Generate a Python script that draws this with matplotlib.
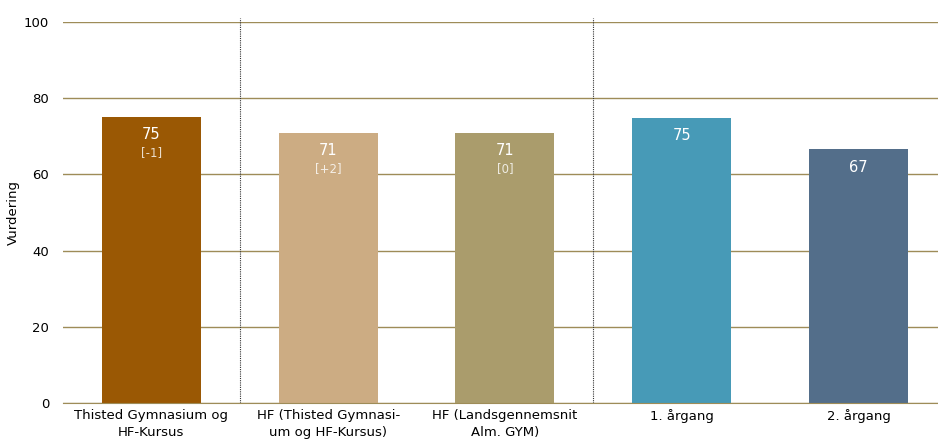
import matplotlib
matplotlib.use("Agg")
from matplotlib import pyplot as plt

# data
kategorier = ["Thisted Gymnasium og\nHF-Kursus",
              "HF (Thisted Gymnasi-\num og HF-Kursus)",
              "HF (Landsgennemsnit\nAlm. GYM)",
              "1. årgang",
              "2. årgang"]
vaerdier = [75.1, 70.9, 70.9, 74.9, 66.6]
etiketter = ["75", "71", "71", "75", "67"]
aendringer = ["[-1]", "[+2]", "[0]", None, None]
farver = ["#9A5804", "#CCAC83", "#AA9C6C", "#479AB7", "#536E8A"]
skillelinjer = [0.5, 2.5]

plt.rcParams["font.family"] = ["DejaVu Sans"]

fig = plt.figure(figsize=(9.38, 4.43), dpi=100)
ax = fig.add_axes([63 / 938, 40 / 443, 1 - 63 / 938, 381 / 443])

pos = list(range(len(kategorier)))
bars = ax.bar(pos, vaerdier, width=0.56, color=farver, zorder=3)

for b, lab, aend in zip(bars, etiketter, aendringer):
    x = b.get_x() + b.get_width() / 2
    h = b.get_height()
    ax.annotate(lab, (x, h), xytext=(0, -13), textcoords="offset points",
                ha="center", va="center", color="white", fontsize=10.5, zorder=4)
    if aend:
        ax.annotate(aend, (x, h), xytext=(0, -26), textcoords="offset points",
                    ha="center", va="center", color="white", alpha=0.8,
                    fontsize=8.5, zorder=4)

for s in skillelinjer:
    ax.axvline(s, ymin=0, ymax=1.01, color="#333333", linestyle=(0, (1, 1)),
               linewidth=0.8, clip_on=False, zorder=2)

ax.set_ylim(0, 100)
ax.set_xlim(-0.5, 4.45)
ax.set_yticks([0, 20, 40, 60, 80, 100])
ax.yaxis.grid(True, color="#9E8C58", linewidth=1, zorder=1)
ax.set_xticks(pos)
ax.set_xticklabels(kategorier, fontsize=9.5, linespacing=1.45)
ax.tick_params(axis="both", length=0, labelsize=9.5)
ax.tick_params(axis="y", pad=10)
ax.tick_params(axis="x", pad=4)
for side in ["top", "right", "left"]:
    ax.spines[side].set_visible(False)
ax.spines["bottom"].set_color("#9E8C58")
ax.spines["bottom"].set_zorder(5)
ax.set_ylabel("Vurdering", fontsize=9.5, labelpad=3)

fig.savefig("out.png", dpi=100)
